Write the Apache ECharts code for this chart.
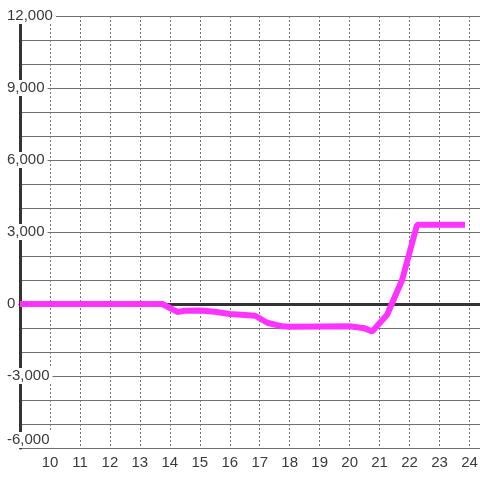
<!DOCTYPE html>
<html>
<head>
<meta charset="utf-8">
<script src="https://cdn.jsdelivr.net/npm/echarts@6/dist/echarts.min.js"></script>
<style>
  html, body { margin: 0; padding: 0; background: #fff; }
  #chart { width: 480px; height: 480px; }
</style>
</head>
<body>
<div id="chart"></div>
<script>
// hour of day -> value
const hours = [9, 13.75, 14.25, 14.5, 15, 15.5, 16, 16.5, 16.85, 17.25, 17.75, 18, 20, 20.5, 20.75, 21.25, 21.75, 22.25, 23.85]
const values = [0, 0, -330, -280, -270, -320, -420, -460, -490, -780, -930, -950, -930, -1010, -1150, -450, 1000, 3300, 3300]

const xMin = 9
const xMax = 24.35
const yMin = -6000
const yMax = 12000

const chart = echarts.init(document.getElementById('chart'))

const gridColor = '#707070'
const textStyle = { fontFamily: 'Liberation Sans', fontSize: 15, color: '#3a3a3a' }

chart.setOption({
    animation: false,
    backgroundColor: '#fff',
    grid: { left: 20, right: 0, top: 16, bottom: 32, containLabel: false, outerBoundsMode: 'none' },
    xAxis: [
        {
            type: 'value',
            min: xMin,
            max: xMax,
            interval: 1,
            z: 0,
            axisLine: { show: false, onZero: false },
            axisTick: { show: false },
            axisLabel: {
                ...textStyle,
                margin: 7,
                showMinLabel: false,
                showMaxLabel: false,
                formatter: (v) => (v >= 10 && v <= 24 && Number.isInteger(v) ? String(v) : ''),
            },
            splitLine: { show: true, lineStyle: { color: gridColor, type: [2, 2], width: 1 } },
        },
        {
            // zero line
            type: 'value',
            min: xMin,
            max: xMax,
            position: 'bottom',
            z: 1.5,
            axisLine: { show: true, onZero: true, lineStyle: { color: '#333', width: 3 } },
            axisTick: { show: false },
            axisLabel: { show: false },
            splitLine: { show: false },
        },
    ],
    yAxis: {
        type: 'value',
        min: yMin,
        max: yMax,
        interval: 3000,
        z: 1,
        axisLine: { show: true, onZero: false, lineStyle: { color: '#333', width: 3 } },
        axisTick: { show: false },
        minorTick: { show: false, splitNumber: 3 },
        minorSplitLine: { show: true, lineStyle: { color: gridColor, width: 1 } },
        splitLine: { show: true, lineStyle: { color: gridColor, width: 1 } },
        axisLabel: {
            ...textStyle,
            align: 'left',
            margin: 16,
            lineHeight: 16,
            padding: [0, 3, 0, 3],
            backgroundColor: '#fff',
            verticalAlignMinLabel: 'bottom',
            formatter: (v) => v.toLocaleString('en-US'),
        },
    },
    series: [
        {
            type: 'line',
            xAxisIndex: 0,
            z: 3,
            data: hours.map((h, i) => [h, values[i]]),
            symbol: 'none',
            clip: false,
            lineStyle: { color: '#ff33ff', width: 6 },
        },
    ],
})
</script>
</body>
</html>
